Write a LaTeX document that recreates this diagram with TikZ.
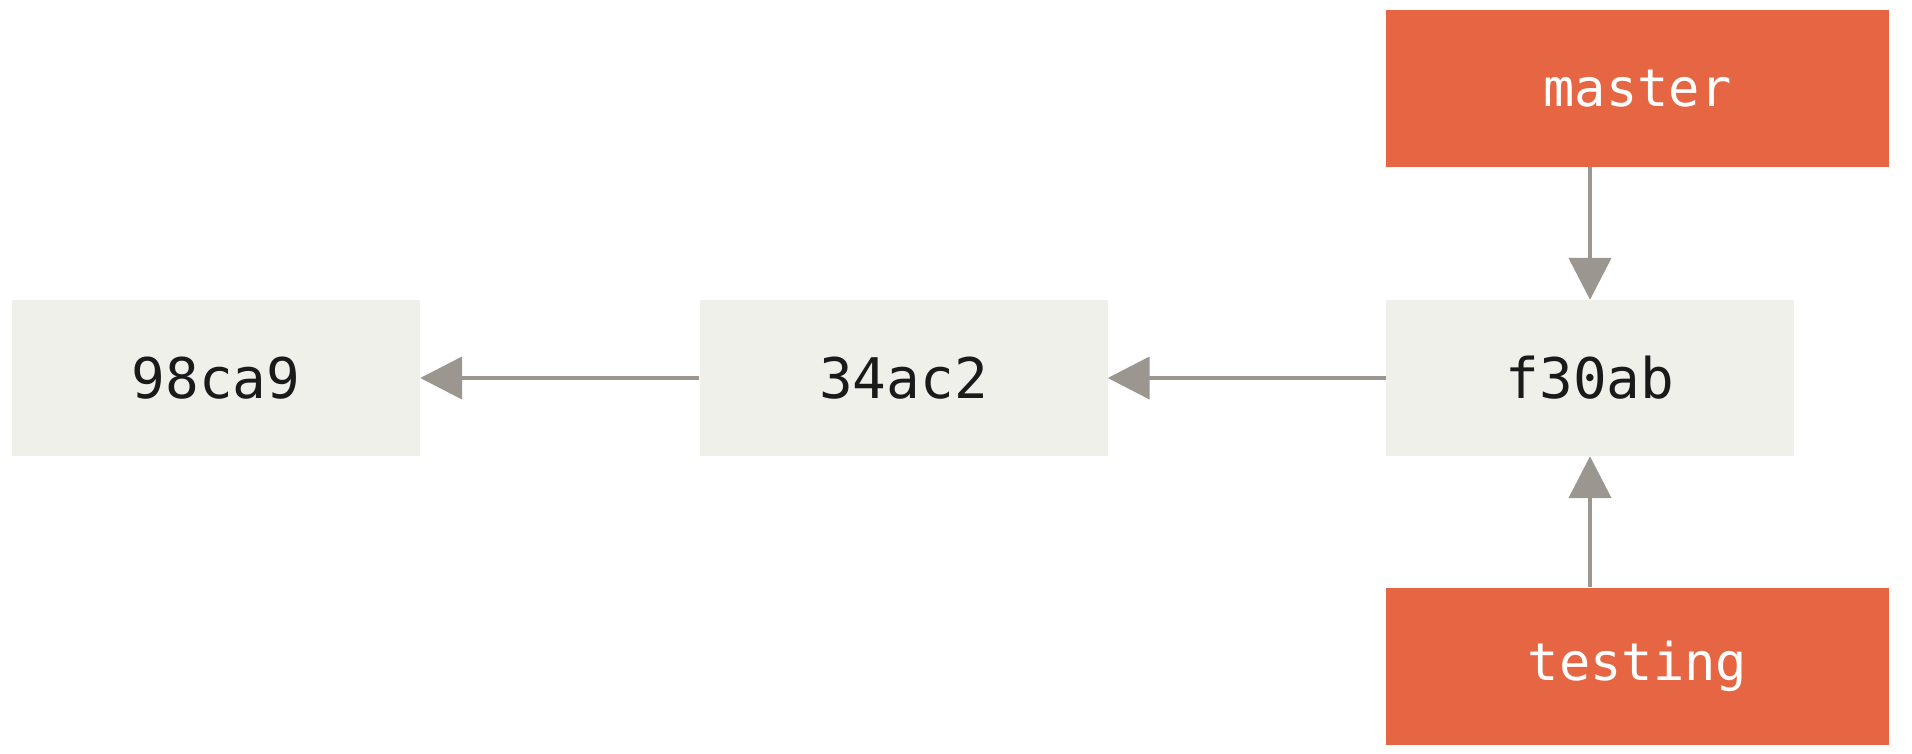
\documentclass[tikz,border=0pt]{standalone}
\usepackage{fontspec}
\setmonofont{DejaVu Sans Mono}
\usetikzlibrary{arrows.meta}
\definecolor{commitbg}{HTML}{F0F0EB}
\definecolor{branchbg}{HTML}{E66542}
\definecolor{arrowgray}{HTML}{9B968F}
\definecolor{commitfg}{HTML}{1A1A1A}
\begin{document}
\begin{tikzpicture}[x=1pt,y=-1pt,
  commit/.style={fill=commitbg, draw=none, minimum width=408pt, minimum height=156pt,
    inner sep=0pt, font=\fontsize{56}{64}\selectfont\ttfamily, text=commitfg},
  branch/.style={fill=branchbg, draw=none, minimum width=503pt, minimum height=157pt,
    inner sep=0pt, font=\fontsize{52}{60}\selectfont\ttfamily, text=white},
  ptr/.style={draw=arrowgray, line width=4.5pt, -{Triangle[length=42pt,width=42pt]}}]
\useasboundingbox (0,0) rectangle (1912,754);
\node[commit] (c1) at (216,378) {98ca9};
\node[commit] (c2) at (903.5,378) {34ac2};
\node[commit] (c3) at (1590,378) {f30ab};
\node[branch] (m) at (1637.5,88.5) {master};
\node[branch] (t) at (1637.5,666) {testing};
\draw[ptr] (c2) -- (c1);
\draw[ptr] (c3) -- (c2);
\draw[ptr] (m.south -| c3) -- (c3.north);
\draw[ptr] (t.north -| c3) -- (c3.south);
\end{tikzpicture}
\end{document}
